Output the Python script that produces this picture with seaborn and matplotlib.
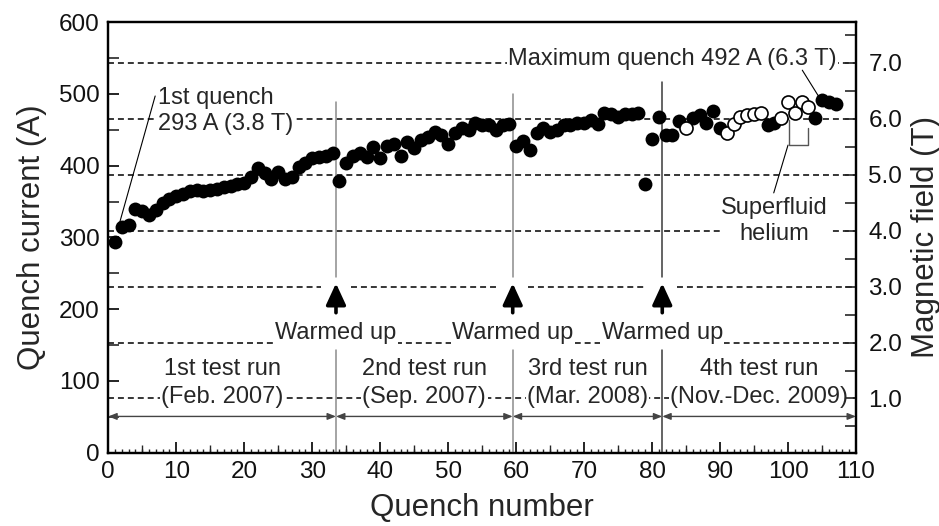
import matplotlib
matplotlib.use("Agg")
import matplotlib.pyplot as plt
import numpy as np
import pandas as pd
import seaborn as sns
from matplotlib.ticker import MultipleLocator, FormatStrFormatter

# ---------------- data ----------------
quench_number = list(range(1, 108))
run1_current = [293, 314, 317, 340, 337, 331, 338, 348, 354, 357, 360, 364, 366, 364, 366,
                368, 370, 372, 374, 376, 384, 396, 390, 382, 391, 382, 384, 398, 404, 410,
                412, 414, 418]
run2_current = [378, 404, 414, 418, 412, 426, 410, 428, 430, 414, 433, 424, 436, 440, 447,
                442, 430, 446, 452, 450, 460, 456, 456, 450, 456, 458]
run3_current = [428, 435, 422, 445, 452, 447, 450, 456, 456, 459, 460, 463, 458, 474, 472,
                468, 472, 472, 474, 375, 437, 468]
run4_current = [442, 442, 462, 452, 466, 470, 460, 476, 452, 446, 458, 468, 470, 472, 474,
                456, 460, 466, 488, 474, 488, 482, 466, 492, 488, 486]
quench_current = run1_current + run2_current + run3_current + run4_current
superfluid_quenches = [85, 91, 92, 93, 94, 95, 96, 99, 100, 101, 102, 103]

field_levels = [1, 2, 3, 4, 5, 6, 7]           # T, dashed reference lines
amps_per_tesla = 78.0
field_offset = 2.5
warmup_positions = [33.5, 59.5, 81.5]
warmup_line_tops = [489, 500, 517]
warmup_line_colors = ["#8c8c8c", "#8c8c8c", "#3a3a3a"]
run_bounds = [0, 33.5, 59.5, 81.5, 110]
run_titles = ["1st test run", "2nd test run", "3rd test run", "4th test run"]
run_dates = ["(Feb. 2007)", "(Sep. 2007)", "(Mar. 2008)", "(Nov.-Dec. 2009)"]

df = pd.DataFrame({"q": quench_number, "I": quench_current})
df["cond"] = np.where(df["q"].isin(superfluid_quenches), "Superfluid", "Normal")

# ---------------- style ----------------
sns.set_theme(style="ticks")
plt.rcParams["font.family"] = ["Liberation Sans", "DejaVu Sans"]
plt.rcParams["xtick.direction"] = "in"
plt.rcParams["ytick.direction"] = "in"

fig = plt.figure(figsize=(9.39, 5.26), dpi=100)
ax = fig.add_axes([0.1153, 0.1394, 0.7963, 0.8186])

ax.set_xlim(0, 110)
ax.set_ylim(0, 600)

# dashed field reference lines
dash = (0, (3.9, 2.6))
for T in field_levels:
    A = T * amps_per_tesla - field_offset
    if T == 3:
        edges = [0]
        for w in warmup_positions:
            edges += [w - 2.2, w + 2.2]
        edges.append(110)
        for a, b in zip(edges[0::2], edges[1::2]):
            ax.plot([a, b], [A, A], color="black", lw=1.1, ls=dash, zorder=2)
    else:
        ax.plot([0, 110], [A, A], color="black", lw=1.1, ls=dash, zorder=2)

# warm-up vertical lines and arrows
for w, top, c in zip(warmup_positions, warmup_line_tops, warmup_line_colors):
    ax.plot([w, w], [245, top], color=c, lw=1.1, zorder=3)
    ax.plot([w, w], [0, 143], color=c, lw=1.1, zorder=3)
    ax.annotate("", xy=(w, 236), xytext=(w, 195),
                arrowprops=dict(arrowstyle="-|>,head_length=0.65,head_width=0.3",
                                color="black", lw=2.6, shrinkA=0, shrinkB=0,
                                mutation_scale=20), zorder=4)
    ax.text(w, 167, "Warmed up", ha="center", va="center", fontsize=17,
            bbox=dict(facecolor="white", edgecolor="none", pad=1.0), zorder=5)

# run spans
for i in range(4):
    a, b = run_bounds[i], run_bounds[i + 1]
    mid = (a + b) / 2
    ax.annotate("", xy=(a, 50.5), xytext=(b, 50.5),
                arrowprops=dict(arrowstyle="<|-|>,head_length=0.5,head_width=0.2",
                                color="#444444", lw=1.0, shrinkA=0, shrinkB=0,
                                mutation_scale=10), zorder=3)
    ax.text(mid, 116.6, run_titles[i], ha="center", va="center", fontsize=17, zorder=5)
    ax.text(mid, 78, run_dates[i], ha="center", va="center", fontsize=17,
            bbox=dict(facecolor="white", edgecolor="none", pad=1.0), zorder=5)

# data points
sns.scatterplot(data=df[df["cond"] == "Normal"], x="q", y="I", ax=ax, color="black",
                s=100, linewidth=0, zorder=6, legend=False)
sns.scatterplot(data=df[df["cond"] == "Superfluid"], x="q", y="I", ax=ax, color="white",
                edgecolor="black", s=88, linewidth=1.2, zorder=7, legend=False)

# annotations
ax.text(7.3, 476, "1st quench\n293 A (3.8 T)", ha="left", va="center", fontsize=17,
        linespacing=1.2, bbox=dict(facecolor="white", edgecolor="none", pad=0.5), zorder=5)
ax.plot([6.9, 1.6], [497, 318], color="black", lw=0.8, zorder=5)

ax.text(107.2, 548, "Maximum quench 492 A (6.3 T)", ha="right", va="center", fontsize=17,
        bbox=dict(facecolor="white", edgecolor="none", pad=1.0), zorder=5)
ax.plot([102.1, 104.6], [533, 495], color="black", lw=0.8, zorder=5)

ax.text(98.0, 323, "Superfluid\nhelium", ha="center", va="center", fontsize=17,
        linespacing=1.2, bbox=dict(facecolor="white", edgecolor="none", pad=1.0), zorder=5)
ax.plot([100.1, 100.1, 102.9, 102.9], [463, 428.6, 428.6, 452], color="#555555",
        lw=1.0, zorder=5)
ax.plot([100.0, 97.9], [428.6, 362], color="black", lw=0.8, zorder=5)

# axes cosmetics
ax.xaxis.set_major_locator(MultipleLocator(10))
ax.xaxis.set_minor_locator(MultipleLocator(1))
ax.yaxis.set_major_locator(MultipleLocator(100))
ax.yaxis.set_minor_locator(MultipleLocator(50))
ax.tick_params(axis="both", which="major", length=8, width=1.2, labelsize=17.5, pad=6,
               right=False, top=False, color="black", labelcolor="#111111")
ax.tick_params(axis="x", which="minor", length=3, width=1.0, top=False)
ax.tick_params(axis="y", which="minor", length=8, width=1.2, right=False)
sec = ax.secondary_xaxis("bottom")
sec.set_xticks(np.arange(5, 110, 10))
sec.tick_params(length=5.5, width=1.0, direction="in", labelbottom=False)
sec.spines["bottom"].set_visible(False)

ax.set_xlabel("Quench number", fontsize=22.5, labelpad=7)
ax.set_ylabel("Quench current (A)", fontsize=22.5, labelpad=9)

ax2 = ax.twinx()
ax2.set_ylim((0 + field_offset) / amps_per_tesla, (600 + field_offset) / amps_per_tesla)
ax2.yaxis.set_major_locator(MultipleLocator(1))
ax2.yaxis.set_minor_locator(MultipleLocator(0.5))
ax2.yaxis.set_major_formatter(FormatStrFormatter("%.1f"))
ax2.set_yticks([1, 2, 3, 4, 5, 6, 7])
ax2.tick_params(axis="y", which="major", length=8, width=1.2, labelsize=17.5, pad=9,
                direction="in", labelcolor="#111111")
ax2.tick_params(axis="y", which="minor", length=8, width=1.2, direction="in")
ax2.set_ylabel("Magnetic field (T)", fontsize=22.5, labelpad=6)
ax2.grid(False)
ax.grid(False)

for a in (ax, ax2):
    for sp in a.spines.values():
        sp.set_linewidth(1.6)
        sp.set_color("black")

fig.savefig("out.png", dpi=100)
